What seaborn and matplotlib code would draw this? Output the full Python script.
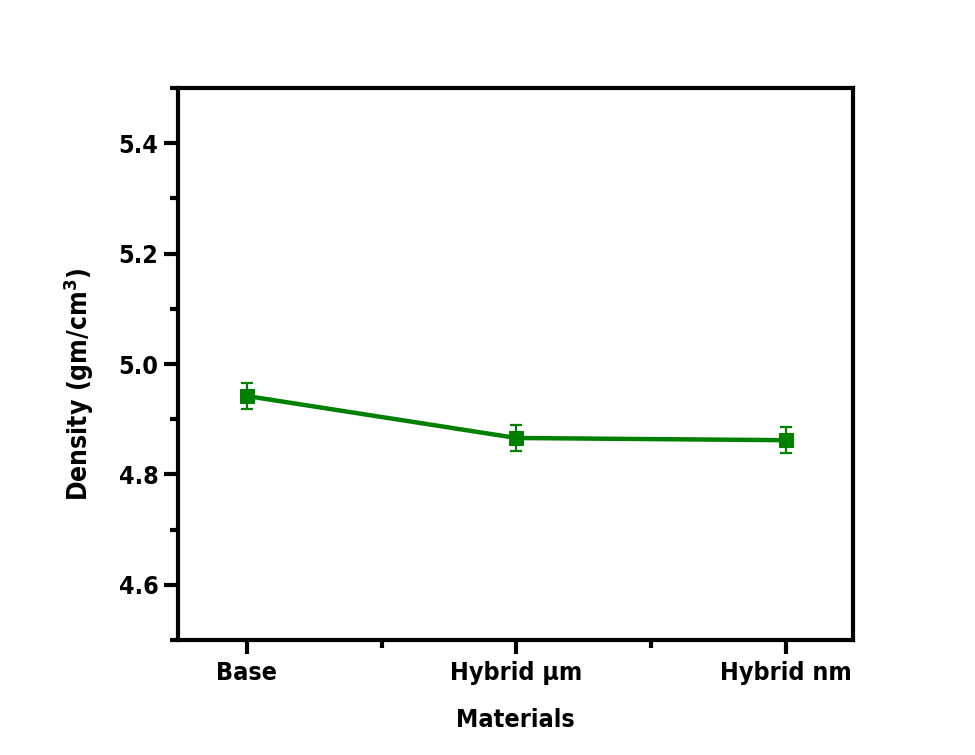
import matplotlib
matplotlib.use("Agg")
import matplotlib.pyplot as plt
from matplotlib.ticker import AutoMinorLocator, FixedLocator
import seaborn as sns
import pandas as pd

materials = ["Base", "Hybrid µm", "Hybrid nm"]
density = [4.942, 4.866, 4.862]
density_err = [0.024, 0.023, 0.024]

sns.set_style("ticks")
plt.rcParams["font.family"] = ["DejaVu Sans"]
plt.rcParams["font.weight"] = "bold"
plt.rcParams["font.stretch"] = "condensed"
plt.rcParams["text.color"] = "black"
plt.rcParams["axes.labelcolor"] = "black"
plt.rcParams["xtick.color"] = "black"
plt.rcParams["ytick.color"] = "black"

df = pd.DataFrame({"pos": range(len(materials)), "density": density, "err": density_err})

fig = plt.figure(figsize=(9.75, 7.55), dpi=100)
ax = fig.add_axes([0.1826, 0.1523, 0.6924, 0.7311])

green = "#008000"
sns.lineplot(data=df, x="pos", y="density", ax=ax, color=green, lw=3.2,
             marker="s", markersize=10, markeredgecolor=green, zorder=3)
ax.errorbar(df["pos"], df["density"], yerr=df["err"], fmt="none",
            ecolor=green, elinewidth=1.6, capsize=4.5, capthick=1.6, zorder=2)

ax.set_xlim(-0.256, 2.25)
ax.set_ylim(4.5, 5.5)
ax.xaxis.set_major_locator(FixedLocator(df["pos"].tolist()))
ax.set_xticklabels(materials)
ax.xaxis.set_minor_locator(FixedLocator([0.5, 1.5]))
ax.set_yticks([4.6, 4.8, 5.0, 5.2, 5.4])
ax.yaxis.set_minor_locator(AutoMinorLocator(2))

for side in ["left", "right", "top", "bottom"]:
    ax.spines[side].set_visible(True)
    ax.spines[side].set_linewidth(3)
    ax.spines[side].set_color("black")

ax.tick_params(axis="both", which="major", direction="out", length=10, width=3,
               labelsize=18, top=False, right=False, colors="black")
ax.tick_params(axis="x", which="major", pad=5)
ax.tick_params(axis="y", which="major", pad=4)
ax.tick_params(axis="both", which="minor", direction="out", length=6, width=3,
               top=False, right=False, colors="black")
for lbl in ax.get_xticklabels() + ax.get_yticklabels():
    lbl.set_fontweight("bold")

ax.set_xlabel("Materials", fontsize=18, fontweight="bold", labelpad=17)
ax.set_ylabel("")
fig.text(79 / 975, 1 - 384 / 755, "Density (gm/cm$^\\mathbf{3}$)", rotation=90,
         ha="center", va="center", fontsize=19, fontweight="bold")

fig.savefig("out.png", dpi=100, facecolor="white")
